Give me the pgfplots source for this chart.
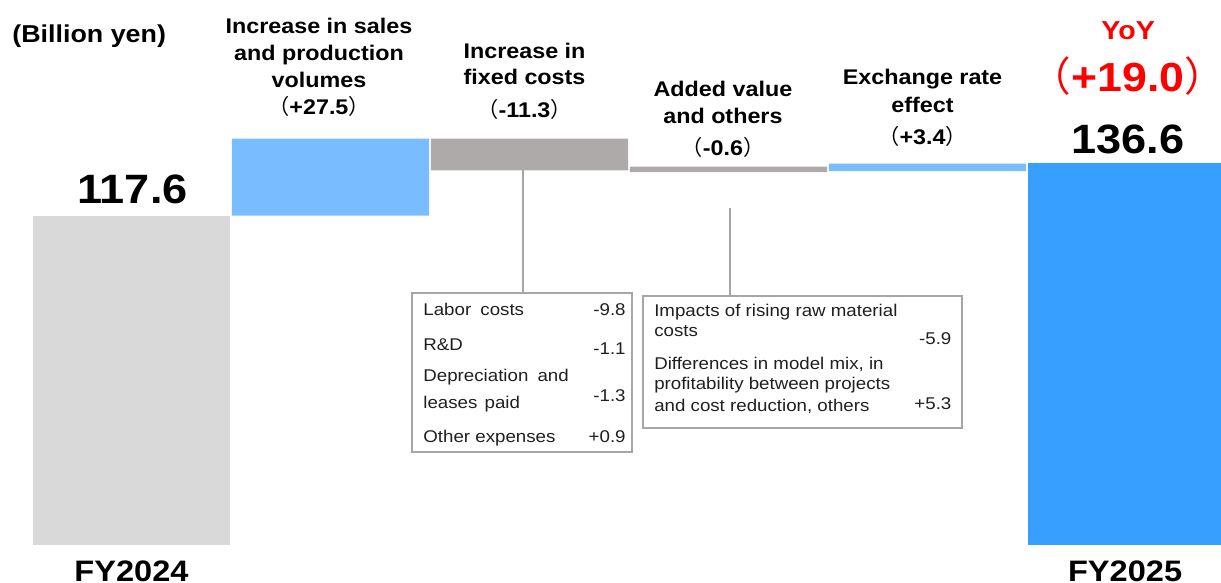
\documentclass[border=0pt]{standalone}
\usepackage{pgfplots}
\pgfplotsset{compat=1.18}
\usepackage{fontspec}
\setmainfont{Liberation Sans}[FakeStretch=1.1]
\newfontfamily\cjk{Noto Sans CJK JP}
\definecolor{cFY24}{HTML}{D9D9D9}
\definecolor{cLB}{HTML}{79BCFF}
\definecolor{cGR}{HTML}{AEAAAA}
\definecolor{cFY25}{HTML}{369FFF}
\definecolor{cLine}{HTML}{A6A6A6}
\newcommand\hd{\fontsize{10.6}{12}\selectfont\bfseries}
\newcommand\bx{\fontsize{8.5}{10}\selectfont\color{black!88}}
\newcommand\lp{{\cjk\mdseries （}}
\newcommand\rp{{\cjk\mdseries ）}}
\begin{document}
\begin{tikzpicture}
\begin{axis}[
  scale only axis, width=610.5pt, height=291.5pt,
  xmin=-0.6608, xmax=5.4749, ymin=-13.571, ymax=194.643,
  hide axis, ybar stacked, bar width=0.99,
]
% invisible base of the floating bars
\addplot[draw=none, fill=none] coordinates {(0,0) (1,117.6) (2,133.8) (3,133.2) (4,133.5) (5,0)};
% FY2024
\addplot[draw=none, fill=cFY24] coordinates {(0,117.6) (1,0) (2,0) (3,0) (4,0) (5,0)};
% increases
\addplot[draw=none, fill=cLB] coordinates {(0,0) (1,27.5) (2,0) (3,0) (4,2.7) (5,0)};
% decreases
\addplot[draw=none, fill=cGR] coordinates {(0,0) (1,0) (2,11.3) (3,1.9) (4,0) (5,0)};
% FY2025
\addplot[draw=none, fill=cFY25] coordinates {(0,0) (1,0) (2,0) (3,0) (4,0) (5,136.6)};

% connectors and boxes
\draw[cLine, line width=0.75pt] (axis cs:1.967,133.9) -- (axis cs:1.967,90.0);
\draw[cLine, line width=0.75pt] (axis cs:3.008,120.36) -- (axis cs:3.008,88.93);
\draw[cLine, line width=0.75pt] (axis cs:1.410,90.0) rectangle (axis cs:2.515,33.21);
\draw[cLine, line width=0.75pt] (axis cs:2.570,88.93) rectangle (axis cs:4.173,41.79);

% unit
\node[anchor=base west, inner sep=0] at (axis cs:-0.6005,179.4) {\fontsize{12.2}{14}\selectfont\bfseries (Billion yen)};

% headers
\node[anchor=base, inner sep=0] at (axis cs:0.942,182.75) {\hd Increase in sales};
\node[anchor=base, inner sep=0] at (axis cs:0.942,172.86) {\hd and production};
\node[anchor=base, inner sep=0] at (axis cs:0.942,163.46) {\hd volumes};
\node[anchor=base, inner sep=0] at (axis cs:0.942,153.82) {\hd\lp+27.5\rp};

\node[anchor=base, inner sep=0] at (axis cs:1.975,173.82) {\hd Increase in};
\node[anchor=base, inner sep=0] at (axis cs:1.975,164.29) {\hd fixed costs};
\node[anchor=base, inner sep=0] at (axis cs:1.975,152.75) {\hd\lp-11.3\rp};

\node[anchor=base, inner sep=0] at (axis cs:2.972,160.1) {\hd Added value};
\node[anchor=base, inner sep=0] at (axis cs:2.972,150.6) {\hd and others};
\node[anchor=base, inner sep=0] at (axis cs:2.972,139.04) {\hd\lp-0.6\rp};

\node[anchor=base, inner sep=0] at (axis cs:3.975,164.29) {\hd Exchange rate};
\node[anchor=base, inner sep=0] at (axis cs:3.975,154.39) {\hd effect};
\node[anchor=base, inner sep=0] at (axis cs:3.975,142.86) {\hd\lp+3.4\rp};

\node[anchor=base, inner sep=0, text=red] at (axis cs:5.008,180.36) {\fontsize{13}{15}\selectfont\bfseries YoY};
\node[anchor=base, inner sep=0, text=red] at (axis cs:5.008,161.89) {\fontsize{20.3}{22}\selectfont\bfseries\lp+19.0\rp};
\node[anchor=base, inner sep=0] at (axis cs:5.008,139.89) {\fontsize{20.5}{22}\selectfont\bfseries 136.6};
\node[anchor=base, inner sep=0] at (axis cs:0.005,121.79) {\fontsize{20.5}{22}\selectfont\bfseries 117.6};

% category labels
\node[anchor=base, inner sep=0] at (axis cs:0,-13.2) {\fontsize{14.8}{16}\selectfont\bfseries FY2024};
\node[anchor=base, inner sep=0] at (axis cs:4.993,-13.2) {\fontsize{14.8}{16}\selectfont\bfseries FY2025};

% box 1
\node[anchor=base west, inner sep=0] at (axis cs:1.465,81.79) {\bx Labor\hspace{2pt} costs};
\node[anchor=base east, inner sep=0] at (axis cs:2.485,81.79) {\bx -9.8};
\node[anchor=base west, inner sep=0] at (axis cs:1.465,69.64) {\bx R\&D};
\node[anchor=base east, inner sep=0] at (axis cs:2.485,68.21) {\bx -1.1};
\node[anchor=base west, inner sep=0] at (axis cs:1.465,58.57) {\bx Depreciation\hspace{2pt} and};
\node[anchor=base west, inner sep=0] at (axis cs:1.465,48.82) {\bx leases\hspace{1pt} paid};
\node[anchor=base east, inner sep=0] at (axis cs:2.485,51.18) {\bx -1.3};
\node[anchor=base west, inner sep=0] at (axis cs:1.465,36.68) {\bx Other expenses};
\node[anchor=base east, inner sep=0] at (axis cs:2.485,36.68) {\bx +0.9};

% box 2
\node[anchor=base west, inner sep=0] at (axis cs:2.625,81.54) {\bx Impacts of rising raw material};
\node[anchor=base west, inner sep=0] at (axis cs:2.625,74.39) {\bx costs};
\node[anchor=base east, inner sep=0] at (axis cs:4.122,71.43) {\bx -5.9};
\node[anchor=base west, inner sep=0] at (axis cs:2.625,62.5) {\bx Differences in model mix, in};
\node[anchor=base west, inner sep=0] at (axis cs:2.625,55.36) {\bx profitability between projects};
\node[anchor=base west, inner sep=0] at (axis cs:2.625,47.61) {\bx and cost reduction, others};
\node[anchor=base east, inner sep=0] at (axis cs:4.122,48.46) {\bx +5.3};
\end{axis}
\pgfresetboundingbox
\useasboundingbox (current axis.south west) rectangle (current axis.north east);
\end{tikzpicture}
\end{document}
